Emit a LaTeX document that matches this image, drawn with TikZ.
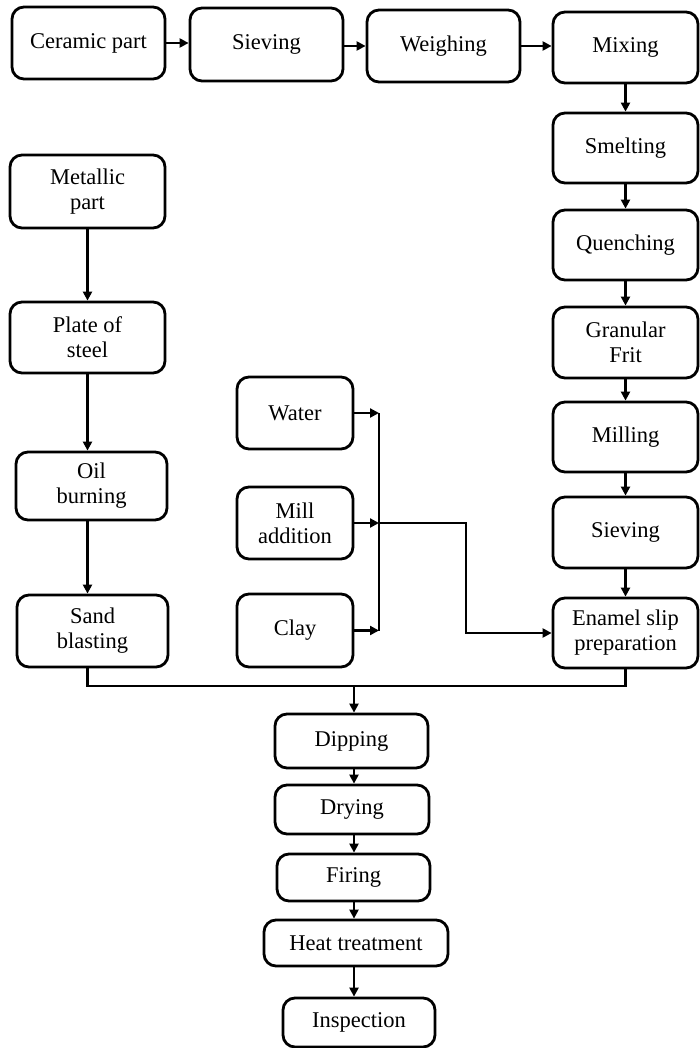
\documentclass[tikz,border=0pt]{standalone}
\usepackage{fontspec}
\setmainfont{Liberation Serif}
\usetikzlibrary{arrows.meta}
\begin{document}
\begin{tikzpicture}[x=1pt,y=-1pt,
  box/.style={draw, line width=2.8pt, rounded corners=12pt, align=center, inner sep=0pt,
    font=\fontsize{22.5pt}{25pt}\selectfont},
  conn/.style={line width=2.2pt},
  arr/.style={line width=2.2pt, -{Triangle[length=9pt,width=9pt]}}]
\useasboundingbox (0,0) rectangle (699,1048);
% top row
\node[box, minimum width=153pt, minimum height=72pt] (ceramic) at (88.5,43) {Ceramic part};
\node[box, minimum width=153pt, minimum height=73pt] (sieve1) at (266.5,44.5) {Sieving};
\node[box, minimum width=153pt, minimum height=72pt] (weigh) at (443.5,46) {Weighing};
% right column
\node[box, minimum width=145pt, minimum height=71pt] (mix) at (625.5,47.5) {Mixing};
\node[box, minimum width=145pt, minimum height=70pt] (smelt) at (625.5,148) {Smelting};
\node[box, minimum width=145pt, minimum height=70pt] (quench) at (625.5,245) {Quenching};
\node[box, minimum width=145pt, minimum height=71pt] (frit) at (625.5,342.5) {Granular\\Frit};
\node[box, minimum width=145pt, minimum height=70pt] (mill) at (625.5,437) {Milling};
\node[box, minimum width=145pt, minimum height=71pt] (sieve2) at (625.5,532.5) {Sieving};
\node[box, minimum width=145pt, minimum height=70pt] (enamel) at (625.5,633) {Enamel slip\\preparation};
% left column
\node[box, minimum width=155pt, minimum height=73pt] (metal) at (87.5,191.5) {Metallic\\part};
\node[box, minimum width=155pt, minimum height=71pt] (plate) at (87.5,337.5) {Plate of\\steel};
\node[box, minimum width=151pt, minimum height=68pt] (oil) at (91.5,486) {Oil\\burning};
\node[box, minimum width=151pt, minimum height=72pt] (sand) at (92.5,631) {Sand\\blasting};
% middle column
\node[box, minimum width=116pt, minimum height=72pt] (water) at (295,413) {Water};
\node[box, minimum width=116pt, minimum height=72pt] (millad) at (295,523) {Mill\\addition};
\node[box, minimum width=116pt, minimum height=73pt] (clay) at (295,630.5) {Clay};
% bottom column
\node[box, minimum width=153pt, minimum height=54pt] (dip) at (351.5,741) {Dipping};
\node[box, minimum width=154pt, minimum height=49pt] (dry) at (352,809.5) {Drying};
\node[box, minimum width=153pt, minimum height=47pt] (fire) at (353.5,877.5) {Firing};
\node[box, minimum width=184pt, minimum height=46pt] (heat) at (356,943) {Heat treatment};
\node[box, minimum width=152pt, minimum height=49pt] (insp) at (359,1022.5) {Inspection};
% helper coordinates
\coordinate (bus) at (379,523);
\coordinate (turn) at (466,523);
\coordinate (join) at (354,686);
% top row arrows
\draw[arr] (ceramic.east) -- (ceramic.east -| sieve1.west);
\draw[arr] (sieve1.east |- weigh.east) -- (weigh.west);
\draw[arr] (weigh.east) -- (weigh.east -| mix.west);
% right column arrows
\draw[arr] (mix.south) -- (smelt.north);
\draw[arr] (smelt.south) -- (quench.north);
\draw[arr] (quench.south) -- (frit.north);
\draw[arr] (frit.south) -- (mill.north);
\draw[arr] (mill.south) -- (sieve2.north);
\draw[arr] (sieve2.south) -- (enamel.north);
% left column arrows
\draw[arr] (metal.south) -- (metal.south |- plate.north);
\draw[arr] (plate.south) -- (plate.south |- oil.north);
\draw[arr] (plate.south |- oil.south) -- (plate.south |- sand.north);
% additions
\draw[arr] (water.east) -- (water.east -| bus);
\draw[arr] (millad.east) -- (millad.east -| bus);
\draw[arr] (clay.east) -- (clay.east -| bus);
\draw[conn] (water.east -| bus) -- (clay.east -| bus);
\draw[arr] (bus) -- (turn) |- (enamel.west);
% merge to bottom
\draw[conn] (plate.south |- sand.south) |- (join) -| (enamel.south);
\draw[arr] (join) -- (join |- dip.north);
\draw[arr] (join |- dip.south) -- (join |- dry.north);
\draw[arr] (join |- dry.south) -- (join |- fire.north);
\draw[arr] (join |- fire.south) -- (join |- heat.north);
\draw[arr] (join |- heat.south) -- (join |- insp.north);
\end{tikzpicture}
\end{document}
